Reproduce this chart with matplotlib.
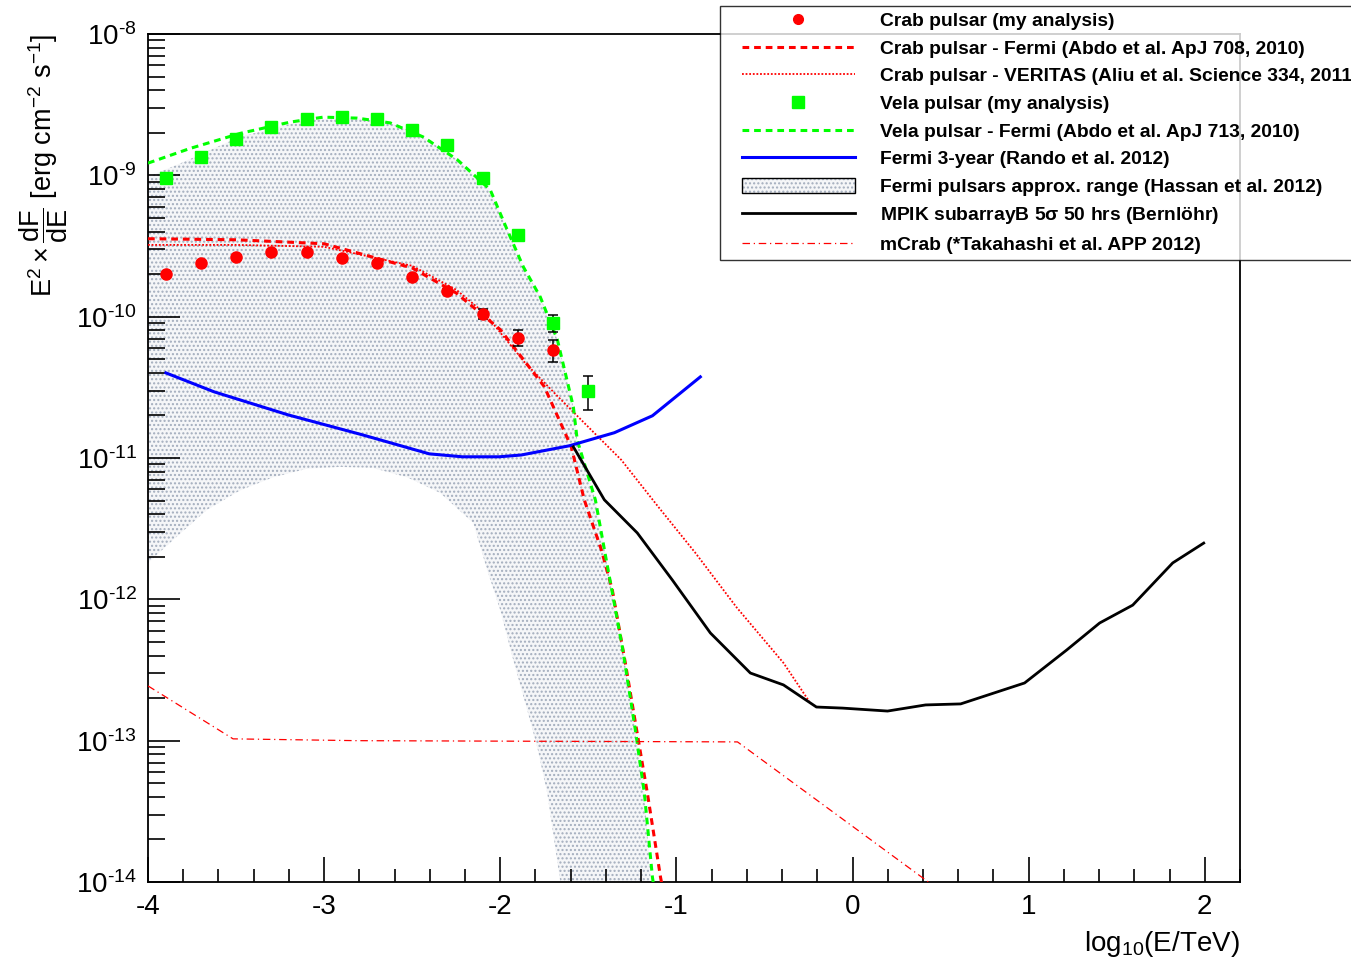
import numpy as np
import matplotlib
matplotlib.use('Agg')
import matplotlib.pyplot as plt
from matplotlib.lines import Line2D
from matplotlib.patches import Patch
from matplotlib.legend_handler import HandlerTuple, HandlerLine2D
from matplotlib.ticker import FixedLocator, LogLocator, NullFormatter, FuncFormatter

plt.rcParams['font.family'] = ['Liberation Sans', 'DejaVu Sans']
plt.rcParams['mathtext.fontset'] = 'custom'
plt.rcParams['mathtext.rm'] = 'Liberation Sans'
plt.rcParams['mathtext.it'] = 'Liberation Sans'
plt.rcParams['mathtext.default'] = 'regular'
plt.rcParams['axes.unicode_minus'] = False
plt.rcParams['hatch.linewidth'] = 1.0

# Crab pulsar (my analysis)
crab_x = [-3.9, -3.7, -3.5, -3.3, -3.1, -2.9, -2.7, -2.5, -2.3, -2.1, -1.9, -1.7]
crab_y = [2.0e-10, 2.4e-10, 2.66e-10, 2.86e-10, 2.86e-10, 2.6e-10, 2.4e-10, 1.9e-10,
          1.53e-10, 1.05e-10, 7.1e-11, 5.8e-11]
crab_err = [0.03e-10, 0.03e-10, 0.03e-10, 0.03e-10, 0.03e-10, 0.03e-10, 0.03e-10, 0.04e-10,
            0.05e-10, 0.08e-10, 0.9e-11, 1.0e-11]

# Vela pulsar (my analysis)
vela_x = [-3.9, -3.7, -3.5, -3.3, -3.1, -2.9, -2.7, -2.5, -2.3, -2.1, -1.9, -1.7, -1.5]
vela_y = [9.6e-10, 1.35e-9, 1.81e-9, 2.2e-9, 2.52e-9, 2.6e-9, 2.52e-9, 2.11e-9, 1.65e-9,
          9.6e-10, 3.78e-10, 9.0e-11, 3.0e-11]
vela_err = [0.1e-10, 0.1e-10, 0.1e-10, 0.1e-10, 0.1e-10, 0.1e-10, 0.1e-10, 0.1e-10, 0.1e-10,
            0.1e-10, 0.1e-10, 1.2e-11, 0.8e-11]

# Crab pulsar - Fermi
crabf_x = [-4.0, -3.5, -3.0, -2.5, -2.25, -2.0, -1.75, -1.597, -1.523, -1.426, -1.364,
           -1.29, -1.216, -1.165, -1.09, -1.07]
crabf_y = [3.56e-10, 3.5e-10, 3.28e-10, 2.21e-10, 1.47e-10, 8.1e-11, 3.2e-11, 1.2e-11,
           5.06e-12, 2.24e-12, 1.17e-12, 3.55e-13, 1.01e-13, 4.27e-14, 1.08e-14, 8e-15]

# Crab pulsar - VERITAS
crabv_x = [-4.0, -3.5, -3.0, -2.5, -2.25, -2.09, -1.858, -1.67, -1.523, -1.313, -1.102,
           -0.892, -0.659, -0.392, -0.244]
crabv_y = [3.22e-10, 3.22e-10, 3.12e-10, 2.29e-10, 1.55e-10, 1.06e-10, 4.7e-11, 2.7e-11,
           1.77e-11, 9.7e-12, 4.5e-12, 2.13e-12, 8.8e-13, 3.55e-13, 1.88e-13]

# Vela pulsar - Fermi
velaf_x = [-4.0, -3.761, -3.477, -3.193, -3.006, -2.812, -2.625, -2.438, -2.244, -2.057,
           -1.96, -1.869, -1.773, -1.676, -1.585, -1.563, -1.46, -1.398, -1.307, -1.233,
           -1.182, -1.136, -1.12]
velaf_y = [1.22e-9, 1.55e-9, 1.98e-9, 2.38e-9, 2.58e-9, 2.54e-9, 2.35e-9, 1.87e-9, 1.29e-9,
           7.9e-10, 4.1e-10, 2.25e-10, 1.38e-10, 6.9e-11, 2.3e-11, 1.34e-11, 5.06e-12,
           1.9e-12, 4.6e-13, 1.19e-13, 4.27e-14, 1.08e-14, 8e-15]

# Fermi 3-year sensitivity
fermi3_x = [-3.898, -3.625, -3.205, -2.784, -2.403, -2.216, -2.006, -1.881, -1.608, -1.352,
            -1.136, -0.864]
fermi3_y = [4.0e-11, 2.94e-11, 2.02e-11, 1.46e-11, 1.07e-11, 1.02e-11, 1.02e-11, 1.05e-11,
            1.22e-11, 1.51e-11, 1.99e-11, 3.75e-11]

# MPIK subarray B
mpik_x = [-1.585, -1.409, -1.222, -1.023, -0.807, -0.58, -0.392, -0.205, -0.057, 0.199,
          0.415, 0.614, 0.977, 1.216, 1.403, 1.591, 1.818, 1.994]
mpik_y = [1.2e-11, 5.06e-12, 2.95e-12, 1.37e-12, 5.78e-13, 3.01e-13, 2.48e-13, 1.73e-13,
          1.70e-13, 1.62e-13, 1.79e-13, 1.82e-13, 2.56e-13, 4.38e-13, 6.8e-13, 9.1e-13,
          1.81e-12, 2.5e-12]

# mCrab
mcrab_x = [-4.0, -3.517, -2.812, -0.653, 0.45]
mcrab_y = [2.44e-13, 1.03e-13, 1.0e-13, 9.8e-14, 9.6e-15]

# Fermi pulsars approx. range (upper and lower edge)
band_up_x = [-4.0, -3.8, -3.48, -3.1, -2.812, -2.625, -2.438, -2.244, -2.057, -1.96, -1.869,
             -1.773, -1.676, -1.585, -1.563, -1.46, -1.398, -1.307, -1.233, -1.182, -1.145]
band_up_y = [9.75e-10, 1.24e-9, 1.87e-9, 2.47e-9, 2.54e-9, 2.35e-9, 1.87e-9, 1.29e-9, 7.9e-10,
             4.1e-10, 2.25e-10, 1.38e-10, 6.9e-11, 2.3e-11, 1.34e-11, 5.06e-12, 1.9e-12,
             4.6e-13, 1.19e-13, 4.27e-14, 1.0e-14]
band_lo_x = [-4.0, -3.858, -3.665, -3.477, -3.29, -3.097, -2.909, -2.722, -2.528, -2.341,
             -2.153, -2.074, -2.0, -1.926, -1.847, -1.79, -1.733, -1.659]
band_lo_y = [1.81e-12, 2.63e-12, 4.3e-12, 5.9e-12, 7.3e-12, 8.4e-12, 8.65e-12, 8.5e-12,
             7.3e-12, 5.66e-12, 3.47e-12, 1.61e-12, 8.4e-13, 3.72e-13, 1.65e-13, 9.0e-14,
             4.26e-14, 1.0e-14]

labels = ['Crab pulsar (my analysis)',
          'Crab pulsar - Fermi (Abdo et al. ApJ 708, 2010)',
          'Crab pulsar - VERITAS (Aliu et al. Science 334, 2011)',
          'Vela pulsar (my analysis)',
          'Vela pulsar - Fermi (Abdo et al. ApJ 713, 2010)',
          'Fermi 3-year (Rando et al. 2012)',
          'Fermi pulsars approx. range (Hassan et al. 2012)',
          r'MPIK subarrayB 5$\sigma$ 50 hrs (Bernlöhr)',
          'mCrab (*Takahashi et al. APP 2012)']

fig = plt.figure(figsize=(13.51, 9.66), dpi=100)
ax = fig.add_axes([148 / 1351, 84 / 966, 1092 / 1351, 848 / 966])

band_color = '#a3adbd'
ax.fill(band_up_x + band_lo_x[::-1], band_up_y + band_lo_y[::-1],
        facecolor='#f5f6f8', edgecolor=band_color, lw=0, hatch='....', zorder=1)

dash = (0, (2.2, 1.6))
ax.plot(crabv_x, crabv_y, color='red', lw=1.3, ls=(0, (1, 1)), zorder=3)
ax.plot(crabf_x, crabf_y, color='red', lw=2.2, ls=dash, zorder=3)
ax.plot(velaf_x, velaf_y, color='#00ff00', lw=2.2, ls=dash, zorder=3)
ax.plot(fermi3_x, fermi3_y, color='blue', lw=2.2, zorder=3)
ax.plot(mpik_x, mpik_y, color='black', lw=2.0, zorder=3)
ax.plot(mcrab_x, mcrab_y, color='red', lw=0.9, ls=(0, (6, 3, 1, 3)), zorder=3)

ax.errorbar(crab_x, crab_y, yerr=crab_err, fmt='none', ecolor='black', elinewidth=1.1,
            capsize=3.5, capthick=1.1, zorder=4)
ax.errorbar(vela_x, vela_y, yerr=vela_err, fmt='none', ecolor='black', elinewidth=1.1,
            capsize=3.5, capthick=1.1, zorder=4)
ax.plot(crab_x, crab_y, 'o', color='red', ms=8, mec='red', zorder=5)
ax.plot(vela_x, vela_y, 's', color='#00ff00', ms=8.5, mec='#00ff00', zorder=5)

ax.set_yscale('log')
ax.set_xlim(-4, 2.2)
ax.set_ylim(1e-14, 1e-8)


def decade_label(v, pos):
    e = int(round(np.log10(v)))
    return r'$\mathregular{10^{\text{%d}}}$' % e


ax.xaxis.set_major_locator(FixedLocator([-4, -3, -2, -1, 0, 1, 2]))
ax.xaxis.set_minor_locator(FixedLocator(np.round(np.arange(-4, 2.21, 0.2), 2)))
ax.yaxis.set_major_locator(LogLocator(base=10, numticks=20))
ax.yaxis.set_minor_locator(LogLocator(base=10, subs=np.arange(2, 10), numticks=100))
ax.yaxis.set_minor_formatter(NullFormatter())
ax.yaxis.set_major_formatter(FuncFormatter(decade_label))

ax.tick_params(axis='x', which='both', direction='in', bottom=True, top=False,
               labelsize=20, pad=9, width=1.2)
ax.tick_params(axis='x', which='major', length=18)
ax.tick_params(axis='x', which='minor', length=9.5)
ax.tick_params(axis='y', which='both', direction='in', left=True, right=False,
               labelsize=20, pad=8, width=1.2)
ax.tick_params(axis='y', which='major', length=23)
ax.tick_params(axis='y', which='minor', length=12)
for s in ax.spines.values():
    s.set_linewidth(1.3)

ax.set_xlabel(r'$\mathregular{log_{10}(E/TeV)}$', fontsize=20, loc='right')
ax.xaxis.set_label_coords(1.0, -0.056)
ax.set_ylabel(r'$\mathregular{E^{2}\times\dfrac{dF}{dE}}$ [erg cm$^{-2}$ s$^{-1}$]',
              fontsize=19.5, loc='top')
ax.yaxis.set_label_coords(-0.071, 1.0)

handles = [
    Line2D([], [], ls='none', marker='o', color='red', ms=7),
    Line2D([], [], color='red', lw=2.2, ls=dash),
    Line2D([], [], color='red', lw=1.3, ls=(0, (1, 1))),
    Line2D([], [], ls='none', marker='s', color='#00ff00', ms=8),
    Line2D([], [], color='#00ff00', lw=2.2, ls=dash),
    Line2D([], [], color='blue', lw=2.2),
    (Patch(facecolor='#f5f6f8', edgecolor=band_color, lw=0, hatch='....'),
     Patch(facecolor='none', edgecolor='black', lw=1.0)),
    Line2D([], [], color='black', lw=2.0),
    Line2D([], [], color='red', lw=0.9, ls=(0, (6, 3, 1, 3))),
]
xpad = 0.83
leg = fig.legend(handles, labels, loc='upper left', bbox_to_anchor=(720 / 1351, 1 - 6 / 966),
                 bbox_transform=fig.transFigure, borderaxespad=0, frameon=True,
                 fancybox=False, shadow=False, handlelength=6.7, handleheight=0.85,
                 handletextpad=1.3, labelspacing=0.48, borderpad=0.3,
                 prop={'weight': 'bold', 'size': 13.9},
                 handler_map={Line2D: HandlerLine2D(xpad=xpad),
                              tuple: HandlerTuple(ndivide=1, pad=0, xpad=xpad)})
leg.get_frame().set_edgecolor('black')
leg.get_frame().set_linewidth(1.0)

fig.savefig('out.png', dpi=100)
